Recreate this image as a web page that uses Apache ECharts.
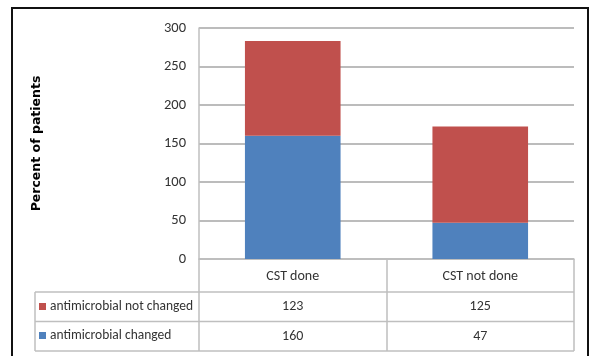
<!DOCTYPE html>
<html>
<head>
<meta charset="utf-8">
<script src="https://cdn.jsdelivr.net/npm/echarts@6/dist/echarts.min.js"></script>
<style>
  html, body { margin: 0; padding: 0; background: #fff; }
  #chart { width: 592px; height: 356px; }
</style>
</head>
<body>
<div id="chart"></div>
<script>
// Categories and the two stacked series (patient counts)
const categories = ['CST done', 'CST not done'];
const notChanged = [123, 125];
const changed = [160, 47];
const seriesNames = ['antimicrobial changed', 'antimicrobial not changed'];
const yTicks = { min: 0, max: 300, interval: 50 };

const FONT = "Carlito, 'Liberation Sans Narrow', 'Open Sans', sans-serif";
const TEXT = '#333333';
const LINE = '#bfbfbf';

const gridLeft = 199, gridRight = 18, gridTop = 28, gridBottom = 97;
const W = 592, H = 356;
const axisY = H - gridBottom;           // y of the zero line
const rowTop = 292, rowMid = 321.5, rowBottom = 351;
const tableLeft = 35, tableRight = W - gridRight;

const chart = echarts.init(document.getElementById('chart'), null, { renderer: 'canvas' });

const hLine = (y) => ({
  type: 'line', silent: true,
  shape: { x1: tableLeft, y1: y, x2: tableRight, y2: y },
  style: { stroke: LINE, lineWidth: 1.5 }
});

chart.setOption({
  animation: false,
  backgroundColor: '#fff',
  grid: { left: gridLeft, right: gridRight, top: gridTop, bottom: gridBottom },
  legend: {
    orient: 'vertical',
    left: 39, top: 298.5, padding: 0,
    data: [seriesNames[1], seriesNames[0]],
    itemWidth: 7, itemHeight: 7, itemGap: 13,
    icon: 'rect',
    textStyle: { fontFamily: FONT, fontSize: 13.5, color: TEXT, lineHeight: 16, padding: [0, 0, 0, -1] }
  },
  xAxis: {
    type: 'category',
    data: categories,
    axisLine: { show: true, lineStyle: { color: LINE, width: 1.5 } },
    axisTick: { show: true, interval: 0, alignWithLabel: false, length: rowBottom - axisY, lineStyle: { color: LINE, width: 1.5 } },
    axisLabel: { margin: 17, verticalAlign: 'middle', fontFamily: FONT, fontSize: 14, color: TEXT }
  },
  yAxis: {
    type: 'value',
    min: yTicks.min, max: yTicks.max, interval: yTicks.interval,
    name: 'Percent of patients',
    nameLocation: 'middle',
    nameGap: 156,
    nameTextStyle: { fontFamily: "'DejaVu Sans', sans-serif", fontWeight: 'bold', fontSize: 12.5, color: '#000' },
    axisLine: { show: true, lineStyle: { color: LINE, width: 1.5 } },
    axisTick: { show: false },
    axisLabel: { margin: 13, fontFamily: FONT, fontSize: 14.5, color: TEXT },
    splitLine: { lineStyle: { color: '#a6a6a6', width: 1.5 } }
  },
  series: [
    {
      name: seriesNames[0], type: 'bar', stack: 'total',
      data: changed, barWidth: '51%',
      itemStyle: { color: '#4f81bd' }
    },
    {
      name: seriesNames[1], type: 'bar', stack: 'total',
      data: notChanged, barWidth: '51%',
      itemStyle: { color: '#c0504d' }
    }
  ]
});

// Data table: value cells centred under each category, plus the cell rules
const cellText = (cat, value, y) => ({
  type: 'text', silent: true,
  x: chart.convertToPixel({ xAxisIndex: 0 }, cat), y: y,
  style: {
    text: String(value), fontFamily: FONT, fontSize: 14, fill: TEXT,
    align: 'center', verticalAlign: 'middle'
  }
});

const cells = [];
categories.forEach((cat, i) => {
  cells.push(cellText(cat, notChanged[i], (rowTop + rowMid) / 2));
  cells.push(cellText(cat, changed[i], (rowMid + rowBottom) / 2));
});

chart.setOption({
  graphic: [
    hLine(rowTop), hLine(rowMid), hLine(rowBottom),
    {
      type: 'line', silent: true,
      shape: { x1: tableLeft, y1: rowTop, x2: tableLeft, y2: rowBottom },
      style: { stroke: LINE, lineWidth: 1.5 }
    },
    ...cells,
    {
      type: 'rect', silent: true, z: 100,
      shape: { x: 12, y: 8, width: 576, height: 360 },
      style: { fill: null, stroke: '#111', lineWidth: 2 }
    }
  ]
});
</script>
</body>
</html>
